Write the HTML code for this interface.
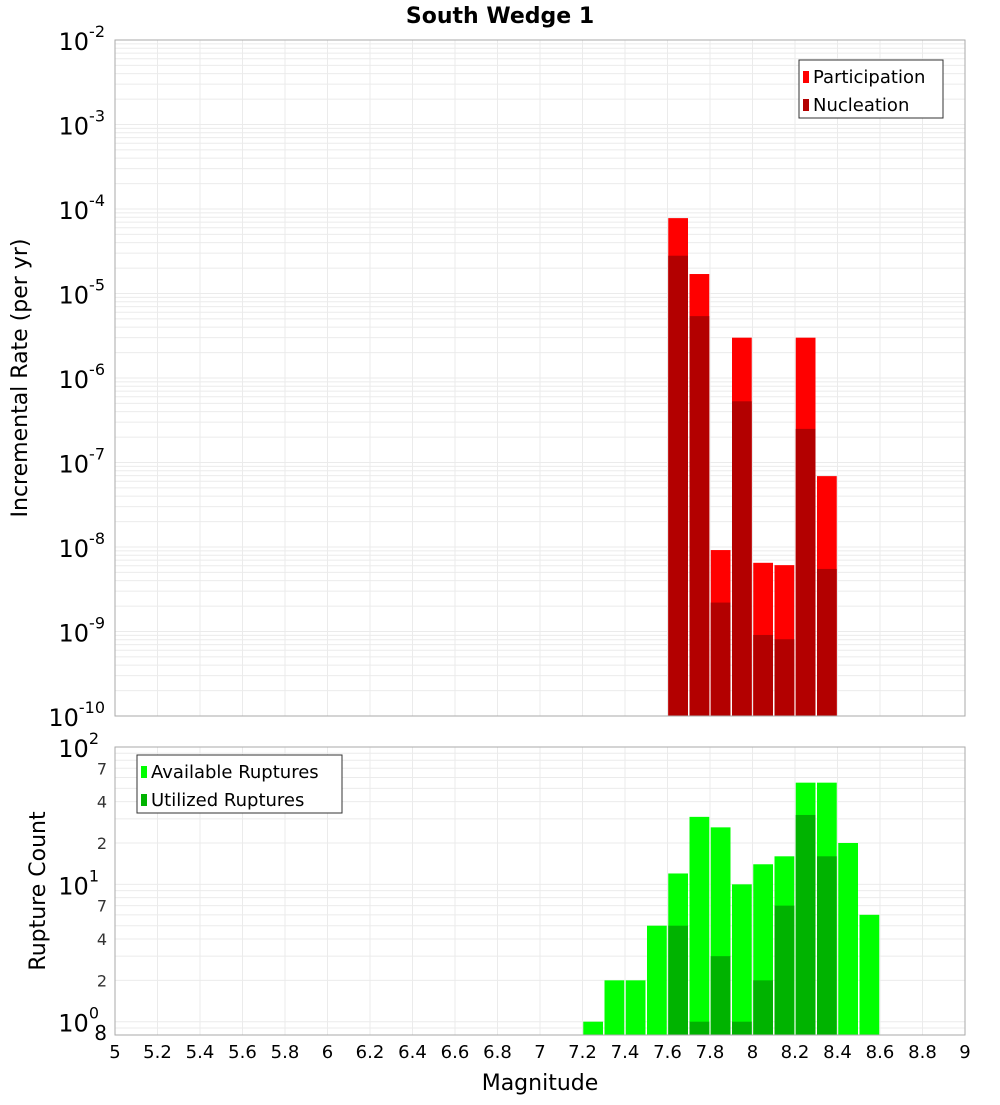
<!DOCTYPE html>
<html><head><meta charset="utf-8"><style>body{margin:0;background:#fff}svg{font-family:"DejaVu Sans","Liberation Sans",sans-serif}</style></head>
<body>
<svg id="c" width="1000" height="1100" xmlns="http://www.w3.org/2000/svg"></svg>
<script>
const binCentersTop=[7.65,7.75,7.85,7.95,8.05,8.15,8.25,8.35];
const participation=[7.8e-5,1.7e-5,9.2e-9,3.0e-6,6.5e-9,6.1e-9,3.0e-6,6.9e-8];
const nucleation=[2.8e-5,5.4e-6,2.2e-9,5.3e-7,9.1e-10,8.1e-10,2.5e-7,5.5e-9];
const binCentersBot=[7.25,7.35,7.45,7.55,7.65,7.75,7.85,7.95,8.05,8.15,8.25,8.35,8.45,8.55];
const available=[1,2,2,5,12,31,26,10,14,16,55,55,20,6];
const utilized=[0,0,0,0,5,1,3,1,2,7,32,16,0,0];
const xTicks=[5,5.2,5.4,5.6,5.8,6,6.2,6.4,6.6,6.8,7,7.2,7.4,7.6,7.8,8,8.2,8.4,8.6,8.8,9];
const topExps=[-2,-3,-4,-5,-6,-7,-8,-9,-10];

const NS="http://www.w3.org/2000/svg",svg=document.getElementById('c');
function el(t,a,p){const e=document.createElementNS(NS,t);for(const k in a)e.setAttribute(k,a[k]);(p||svg).appendChild(e);return e;}
const X0=115,X1=965;
const x=v=>X0+(v-5)/4*(X1-X0);
const T0=40,T1=716; const yT=v=>T0+(-2-Math.log10(v))/8*(T1-T0);
const B0=747,B1=1035; const yB=v=>B1-(Math.log10(v)-Math.log10(0.8))/(2-Math.log10(0.8))*(B1-B0);

// plot backgrounds & grids
const gT=el('g',{});
const gB=el('g',{});
xTicks.forEach(t=>{[[gT,T0,T1],[gB,B0,B1]].forEach(([g,a,b])=>{const l=el('line',{x1:x(t),x2:x(t),y1:a,y2:b,stroke:'#ebebeb'},g);});});
for(let e=-10;e<-2;e++)for(let m=1;m<10;m++){const v=m*Math.pow(10,e);const l=el('line',{x1:X0,x2:X1,y1:yT(v),y2:yT(v),stroke:'#ebebeb'},gT);}
el('line',{x1:X0,x2:X1,y1:T0,y2:T0,stroke:'#ebebeb'},gT);
[0.8,0.9].concat([1,2,3,4,5,6,7,8,9],[10,20,30,40,50,60,70,80,90,100]).forEach(v=>{const l=el('line',{x1:X0,x2:X1,y1:yB(v),y2:yB(v),stroke:'#ebebeb'},gB);});

const bw=x(5.1)-x(5)-1.5;
binCentersTop.forEach((c,i)=>{
 let r=el('rect',{x:x(c)-bw/2,y:yT(participation[i]),width:bw,height:T1-yT(participation[i]),fill:'#ff0000'},gT);
 
 r=el('rect',{x:x(c)-bw/2,y:yT(nucleation[i]),width:bw,height:T1-yT(nucleation[i]),fill:'#b30000'},gT);
 
});
binCentersBot.forEach((c,i)=>{
 let r=el('rect',{x:x(c)-bw/2,y:yB(available[i]),width:bw,height:B1-yB(available[i]),fill:'#00ff00'},gB);
 
 if(utilized[i]>0){r=el('rect',{x:x(c)-bw/2,y:yB(utilized[i]),width:bw,height:B1-yB(utilized[i]),fill:'#00b300'},gB);
 }
});
el('rect',{x:X0,y:T0,width:X1-X0,height:T1-T0,fill:'none',stroke:'#aaa'},gT);
el('rect',{x:X0,y:B0,width:X1-X0,height:B1-B0,fill:'none',stroke:'#aaa'},gB);

// y tick labels top
topExps.forEach(e=>{const t=el('text',{x:X0-10,y:yT(Math.pow(10,e))+10,'text-anchor':'end','font-size':24});
 
 t.innerHTML='10<tspan dy="-13" font-size="16">'+e+'</tspan>';});
[[1,'10','0'],[10,'10','1'],[100,'10','2']].forEach(([v,b,s])=>{const t=el('text',{x:X0-16,y:yB(v)+10,'text-anchor':'end','font-size':24});
 
 t.innerHTML=b+'<tspan dy="-13" font-size="16">'+s+'</tspan>';});
[[0.8,'8'],[2,'2'],[4,'4'],[7,'7'],[20,'2'],[40,'4'],[70,'7']].forEach(([v,s])=>{const t=el('text',{x:X0-8,y:yB(v)+(v==0.8?5:6),'text-anchor':'end','font-size':v==0.8?20:16,fill:v==0.8?'#000':'#333'},);
 t.textContent=s;});
xTicks.forEach(v=>{const t=el('text',{x:x(v),y:1058,'text-anchor':'middle','font-size':18});
 t.textContent=String(v);});

function txt(s,a,name){const t=el('text',a);t.textContent=s;return t;}
txt('South Wedge 1',{x:500,y:23,'text-anchor':'middle','font-size':22,'font-weight':'bold'},'chart-title');
txt('Magnitude',{x:540,y:1090,'text-anchor':'middle','font-size':22},'x-axis-title');
txt('Incremental Rate (per yr)',{x:27,y:378,'text-anchor':'middle','font-size':22,transform:'rotate(-90 27 378)'},'top-y-axis-title');
txt('Rupture Count',{x:45,y:891,'text-anchor':'middle','font-size':22,transform:'rotate(-90 45 891)'},'bottom-y-axis-title');

// legends
function legend(x0,y0,w,items,name){const g=el('g',{});
 el('rect',{x:x0,y:y0,width:w,height:58,fill:'#fff',stroke:'#333'},g);
 items.forEach(([lab,col],i)=>{el('rect',{x:x0+4,y:y0+11+i*28,width:6,height:12,fill:col},g);
  const t=el('text',{x:x0+14,y:y0+23+i*28,'font-size':18},g);t.textContent=lab;});}
legend(799,60,144,[['Participation','#ff0000'],['Nucleation','#b30000']],'top-legend');
legend(137,755,205,[['Available Ruptures','#00ff00'],['Utilized Ruptures','#00b300']],'bottom-legend');
</script>
</body></html>
